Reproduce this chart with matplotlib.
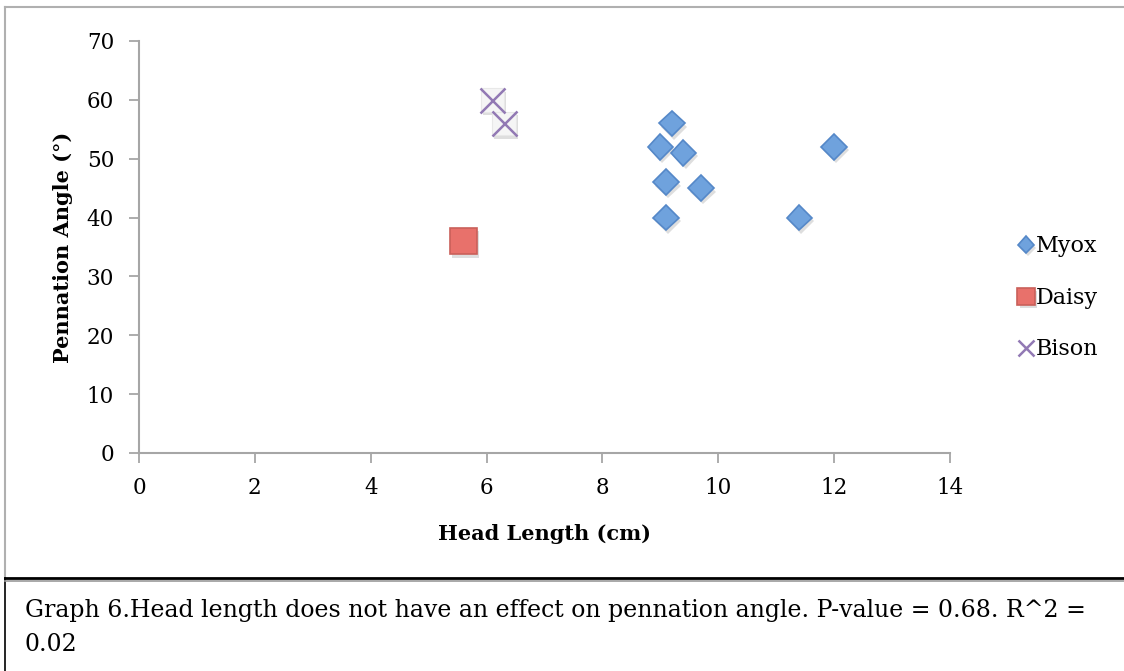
import matplotlib.pyplot as plt
import matplotlib.patheffects as pe
from matplotlib.lines import Line2D

plt.rcParams['font.family'] = 'DejaVu Serif'

# data
myox_len = [9.2, 9.0, 9.4, 9.1, 9.7, 9.1, 12.0, 11.4]
myox_ang = [56, 52, 51, 46, 45, 40, 52, 40]
daisy_len = [5.6]
daisy_ang = [36]
bison_len = [6.1, 6.3]
bison_ang = [60, 56]

x_ticks = [0, 2, 4, 6, 8, 10, 12, 14]
y_ticks = [0, 10, 20, 30, 40, 50, 60, 70]
caption = ('Graph 6.Head length does not have an effect on pennation angle. P-value = 0.68. R^2 =\n'
           '0.02')

fig = plt.figure(figsize=(11.24, 6.71), dpi=100)
ax = fig.add_axes([0.1237, 0.3249, 0.7214, 0.614])

shadow = [pe.SimplePatchShadow(offset=(1.5, -2.5), shadow_rgbFace='k', alpha=0.13), pe.Normal()]

ax.plot(myox_len, myox_ang, ls='none', marker='D', ms=13, mfc='#6fa2dd', mec='#5588c8',
        mew=1.2, label='Myox', path_effects=shadow, zorder=3)
ax.plot(daisy_len, daisy_ang, ls='none', marker='s', ms=19, mfc='#e8716b', mec='#c9605a',
        mew=1.2, label='Daisy', path_effects=shadow, zorder=3)
# light box behind the crosses
ax.plot(bison_len, bison_ang, ls='none', marker='s', ms=17, mfc='#f5f5f5', mec='#e8e8e8',
        mew=0.8, path_effects=shadow, zorder=3)
ax.plot(bison_len, bison_ang, ls='none', marker='x', ms=18, mec='#9279b4', mew=1.8,
        label='Bison', zorder=4)

ax.set_xlim(0, 14)
ax.set_ylim(0, 70)
ax.set_xticks(x_ticks)
ax.set_yticks(y_ticks)
ax.tick_params(labelsize=15.5, length=7, color='#a6a6a6', width=1.3)
ax.tick_params(axis='y', pad=11)
ax.tick_params(axis='x', pad=10.5)
for s in ['top', 'right']:
    ax.spines[s].set_visible(False)
for s in ['left', 'bottom']:
    ax.spines[s].set_color('#a6a6a6')
    ax.spines[s].set_linewidth(1.5)

ax.set_xlabel('Head Length (cm)', fontsize=15, fontweight='bold', labelpad=18)
ax.set_ylabel('Pennation Angle (°)', fontsize=15, fontweight='bold', labelpad=10)

leg = ax.legend(loc='center left', bbox_to_anchor=(0.897, 0.556), bbox_transform=fig.transFigure,
                frameon=False, fontsize=16, markerscale=0.65, handlelength=0.6,
                handletextpad=0.15, labelspacing=1.33, borderpad=0)

# outer frame and caption box
fig.add_artist(Line2D([5/1124, 1], [1-7/671, 1-7/671], color='#b0b0b0', lw=1.5))
fig.add_artist(Line2D([5/1124, 5/1124], [1-7/671, 1-578/671], color='#b0b0b0', lw=1.5))
fig.add_artist(Line2D([5/1124, 5/1124], [1-578/671, 0], color='k', lw=1.2))
fig.add_artist(Line2D([5/1124, 1], [1-577.5/671, 1-577.5/671], color='k', lw=2))
fig.add_artist(Line2D([5/1124, 1], [1-581/671, 1-581/671], color='#999999', lw=1.2))

fig.text(25/1124, 1-599/671, caption, fontsize=17, va='top', ha='left', linespacing=1.62)

fig.savefig('out.png', dpi=100)
